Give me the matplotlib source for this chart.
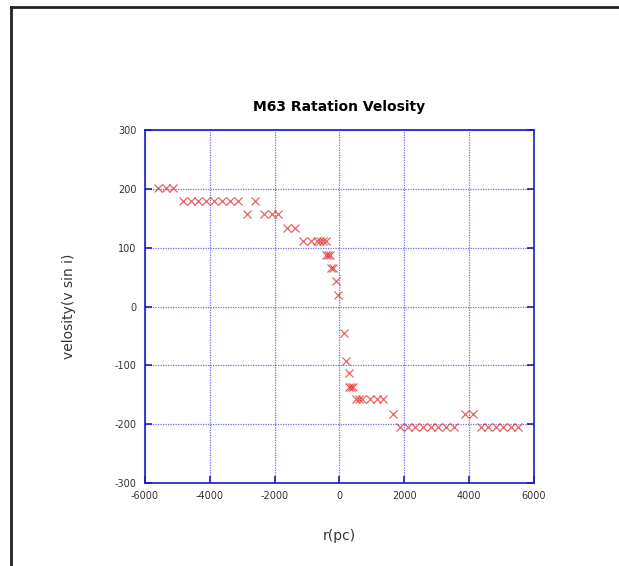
import matplotlib
matplotlib.use("Agg")
import matplotlib.pyplot as plt
from matplotlib.lines import Line2D

plt.rcParams["axes.unicode_minus"] = False

# data (r in pc, v sin i in km/s)
r = [-5600, -5360, -5130,
     -4840, -4590, -4355, -4117, -3870, -3623, -3377, -3139, -2605,
     -2861, -2327, -2071, -1886,
     -1608, -1370,
     -1114, -877, -691, -599, -506, -414,
     -414, -352, -290,
     -259, -198,
     -105, -52,
     142, 204, 282,
     296, 358, 420,
     512, 605, 698, 944, 1151, 1355,
     1645, 3877, 4114,
     1870, 2105, 2345, 2590, 2820, 3050, 3290, 3530,
     4360, 4590, 4820, 5060, 5290, 5520]
v = [202, 202, 202,
     180, 180, 180, 180, 180, 180, 180, 180, 180,
     157, 157, 157, 157,
     134, 134,
     112, 112, 112, 112, 112, 112,
     88, 88, 88,
     66, 66,
     43, 20,
     -45, -92, -113,
     -137, -137, -137,
     -158, -158, -158, -158, -158, -158,
     -182, -182, -182,
     -205, -205, -205, -205, -205, -205, -205, -205,
     -205, -205, -205, -205, -205, -205]

xticks = [-6000, -4000, -2000, 0, 2000, 4000, 6000]
yticks = [-300, -200, -100, 0, 100, 200, 300]

fig = plt.figure(figsize=(6.19, 5.66), dpi=100)
ax = fig.add_axes([0.2342, 0.1466, 0.6284, 0.6237])

ax.plot(r, v, linestyle="none", marker="x", markersize=5.8, markeredgewidth=0.9,
        color="#e03030", alpha=0.75)

ax.set_xlim(-6000, 6000)
ax.set_ylim(-300, 300)
ax.set_xticks(xticks)
ax.set_yticks(yticks)
ax.grid(True, color="#3333dd", linestyle=(0, (1, 1)), linewidth=0.9, alpha=0.7)
for s in ax.spines.values():
    s.set_color("#1a1acc")
    s.set_linewidth(1.2)
ax.tick_params(direction="in", length=5, width=1.2, color="#1a1acc",
               labelsize=7, labelcolor="#333333", right=True, top=False, pad=6)

ax.set_title("M63 Ratation Velosity", fontsize=10, fontweight="bold", pad=14)
ax.set_xlabel("r(pc)", fontsize=10, color="#333333", labelpad=20)
ax.set_ylabel("velosity(v sin i)", fontsize=10, color="#333333", labelpad=28)

# page frame
fig.add_artist(Line2D([11 / 619, 11 / 619], [0, 1 - 7 / 566], color="#222222", linewidth=2))
fig.add_artist(Line2D([11 / 619, 1], [1 - 7 / 566, 1 - 7 / 566], color="#222222", linewidth=2))

fig.savefig("out.png", dpi=100)
